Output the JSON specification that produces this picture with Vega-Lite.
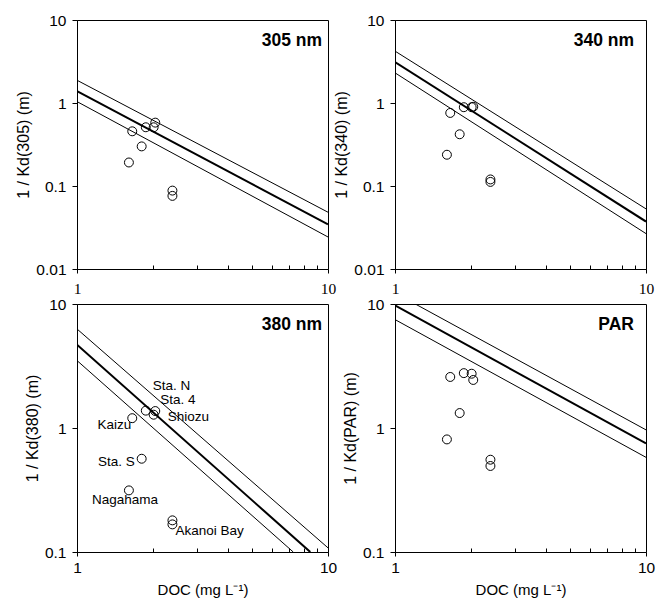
{
  "$schema": "https://vega.github.io/schema/vega-lite/v6.json",
  "autosize": {"type": "pad"},
  "padding": {"left": 15, "top": 12, "right": 0, "bottom": 0},
  "background": "white",
  "bounds": "flush",
  "columns": 2,
  "spacing": {"row": 35, "column": 67},
  "resolve": {"scale": {"x": "independent", "y": "independent"}},
  "config": {
    "font": "Liberation Sans",
    "view": {"stroke": "black", "strokeWidth": 1},
    "axis": {
      "grid": false,
      "domainColor": "black",
      "domainWidth": 1,
      "tickColor": "black",
      "tickWidth": 1,
      "labelColor": "black",
      "titleColor": "black",
      "labelFont": "Liberation Sans",
      "titleFont": "Liberation Sans",
      "labelFontSize": 15.5,
      "titleFontSize": 16,
      "titleFontWeight": "normal",
      "labelOverlap": false,
      "labelFlush": false
    },
    "title": {"font": "Liberation Sans", "fontSize": 17.5, "fontWeight": "bold", "color": "black"}
  },
  "datasets": {
    "points": [
      {"panel": "305 nm", "station": "Nagahama", "doc": 1.61, "inv_kd": 0.192},
      {"panel": "305 nm", "station": "Kaizu", "doc": 1.66, "inv_kd": 0.456},
      {"panel": "305 nm", "station": "Sta. S", "doc": 1.81, "inv_kd": 0.30},
      {"panel": "305 nm", "station": "Sta. N", "doc": 1.88, "inv_kd": 0.51},
      {"panel": "305 nm", "station": "Shiozu", "doc": 2.02, "inv_kd": 0.51},
      {"panel": "305 nm", "station": "Sta. 4", "doc": 2.05, "inv_kd": 0.58},
      {"panel": "305 nm", "station": "Akanoi Bay", "doc": 2.40, "inv_kd": 0.088},
      {"panel": "305 nm", "station": "Akanoi Bay", "doc": 2.40, "inv_kd": 0.076},
      {"panel": "340 nm", "station": "Nagahama", "doc": 1.61, "inv_kd": 0.238},
      {"panel": "340 nm", "station": "Kaizu", "doc": 1.66, "inv_kd": 0.759},
      {"panel": "340 nm", "station": "Sta. S", "doc": 1.81, "inv_kd": 0.42},
      {"panel": "340 nm", "station": "Sta. N", "doc": 1.88, "inv_kd": 0.89},
      {"panel": "340 nm", "station": "Shiozu", "doc": 2.02, "inv_kd": 0.89},
      {"panel": "340 nm", "station": "Sta. 4", "doc": 2.05, "inv_kd": 0.90},
      {"panel": "340 nm", "station": "Akanoi Bay", "doc": 2.40, "inv_kd": 0.120},
      {"panel": "340 nm", "station": "Akanoi Bay", "doc": 2.40, "inv_kd": 0.112},
      {"panel": "380 nm", "station": "Nagahama", "doc": 1.61, "inv_kd": 0.314},
      {"panel": "380 nm", "station": "Kaizu", "doc": 1.66, "inv_kd": 1.20},
      {"panel": "380 nm", "station": "Sta. S", "doc": 1.81, "inv_kd": 0.565},
      {"panel": "380 nm", "station": "Sta. N", "doc": 1.88, "inv_kd": 1.38},
      {"panel": "380 nm", "station": "Shiozu", "doc": 2.02, "inv_kd": 1.28},
      {"panel": "380 nm", "station": "Sta. 4", "doc": 2.05, "inv_kd": 1.37},
      {"panel": "380 nm", "station": "Akanoi Bay", "doc": 2.40, "inv_kd": 0.18},
      {"panel": "380 nm", "station": "Akanoi Bay", "doc": 2.40, "inv_kd": 0.167},
      {"panel": "PAR", "station": "Nagahama", "doc": 1.61, "inv_kd": 0.809},
      {"panel": "PAR", "station": "Kaizu", "doc": 1.66, "inv_kd": 2.58},
      {"panel": "PAR", "station": "Sta. S", "doc": 1.81, "inv_kd": 1.32},
      {"panel": "PAR", "station": "Sta. N", "doc": 1.88, "inv_kd": 2.77},
      {"panel": "PAR", "station": "Shiozu", "doc": 2.02, "inv_kd": 2.74},
      {"panel": "PAR", "station": "Sta. 4", "doc": 2.05, "inv_kd": 2.44},
      {"panel": "PAR", "station": "Akanoi Bay", "doc": 2.40, "inv_kd": 0.555},
      {"panel": "PAR", "station": "Akanoi Bay", "doc": 2.40, "inv_kd": 0.494}
    ],
    "fits": [
      {"panel": "305 nm", "line": "fit", "doc": 1, "inv_kd": 1.39},
      {"panel": "305 nm", "line": "fit", "doc": 10, "inv_kd": 0.0346},
      {"panel": "305 nm", "line": "upper", "doc": 1, "inv_kd": 1.88},
      {"panel": "305 nm", "line": "upper", "doc": 10, "inv_kd": 0.0483},
      {"panel": "305 nm", "line": "lower", "doc": 1, "inv_kd": 1.04},
      {"panel": "305 nm", "line": "lower", "doc": 10, "inv_kd": 0.0243},
      {"panel": "340 nm", "line": "fit", "doc": 1, "inv_kd": 3.11},
      {"panel": "340 nm", "line": "fit", "doc": 10, "inv_kd": 0.0373},
      {"panel": "340 nm", "line": "upper", "doc": 1, "inv_kd": 4.22},
      {"panel": "340 nm", "line": "upper", "doc": 10, "inv_kd": 0.053},
      {"panel": "340 nm", "line": "lower", "doc": 1, "inv_kd": 2.31},
      {"panel": "340 nm", "line": "lower", "doc": 10, "inv_kd": 0.0267},
      {"panel": "380 nm", "line": "fit", "doc": 1, "inv_kd": 4.70},
      {"panel": "380 nm", "line": "fit", "doc": 8.5, "inv_kd": 0.1},
      {"panel": "380 nm", "line": "upper", "doc": 1, "inv_kd": 6.29},
      {"panel": "380 nm", "line": "upper", "doc": 10, "inv_kd": 0.108},
      {"panel": "380 nm", "line": "lower", "doc": 1, "inv_kd": 3.50},
      {"panel": "380 nm", "line": "lower", "doc": 7.27, "inv_kd": 0.1},
      {"panel": "PAR", "line": "fit", "doc": 1, "inv_kd": 9.76},
      {"panel": "PAR", "line": "fit", "doc": 10, "inv_kd": 0.75},
      {"panel": "PAR", "line": "upper", "doc": 1.205, "inv_kd": 10},
      {"panel": "PAR", "line": "upper", "doc": 10, "inv_kd": 0.966},
      {"panel": "PAR", "line": "lower", "doc": 1, "inv_kd": 7.49},
      {"panel": "PAR", "line": "lower", "doc": 10, "inv_kd": 0.58}
    ]
  },
  "concat": [
    {
      "width": 251,
      "height": 249,
      "title": {"text": "305 nm", "orient": "top", "anchor": "end", "frame": "group", "offset": -50, "baseline": "alphabetic", "dx": -6},
      "encoding": {
        "x": {"field": "doc", "type": "quantitative", "scale": {"type": "log", "domain": [1, 10]},
          "axis": {"values": [1, 2, 3, 4, 5, 6, 7, 8, 9, 10], "format": "~g",
            "labelExpr": "datum.value == 1 || datum.value == 10 ? datum.label : ''",
            "tickSize": {"condition": {"test": "datum.value == 1 || datum.value == 10", "value": 4}, "value": -4},
            "labelFont": "Liberation Serif", "labelFontSize": 15.5, "labelPadding": 8, "title": null}},
        "y": {"field": "inv_kd", "type": "quantitative", "scale": {"type": "log", "domain": [0.01, 10]},
          "axis": {"values": [0.01, 0.1, 1, 10], "format": "~g", "tickSize": 5, "labelPadding": 6, "titlePadding": 4, "title": "1 / Kd(305)  (m)"}}
      },
      "layer": [
        {"data": {"name": "fits"}, "transform": [{"filter": "datum.panel == '305 nm' && datum.line != 'fit'"}],
          "mark": {"type": "line", "clip": true, "color": "black", "strokeWidth": 1}, "encoding": {"detail": {"field": "line"}}},
        {"data": {"name": "fits"}, "transform": [{"filter": "datum.panel == '305 nm' && datum.line == 'fit'"}],
          "mark": {"type": "line", "clip": true, "color": "black", "strokeWidth": 2}, "encoding": {}},
        {"data": {"name": "points"}, "transform": [{"filter": "datum.panel == '305 nm'"}],
          "mark": {"type": "point", "shape": "circle", "filled": false, "size": 80, "color": "black", "strokeWidth": 1, "opacity": 1}, "encoding": {}}
      ]
    },
    {
      "width": 251,
      "height": 249,
      "title": {"text": "340 nm", "orient": "top", "anchor": "end", "frame": "group", "offset": -50, "baseline": "alphabetic", "dx": -12},
      "encoding": {
        "x": {"field": "doc", "type": "quantitative", "scale": {"type": "log", "domain": [1, 10]},
          "axis": {"values": [1, 2, 3, 4, 5, 6, 7, 8, 9, 10], "format": "~g",
            "labelExpr": "datum.value == 1 || datum.value == 10 ? datum.label : ''",
            "tickSize": {"condition": {"test": "datum.value == 1 || datum.value == 10", "value": 4}, "value": -4},
            "labelFont": "Liberation Serif", "labelFontSize": 15.5, "labelPadding": 8, "title": null}},
        "y": {"field": "inv_kd", "type": "quantitative", "scale": {"type": "log", "domain": [0.01, 10]},
          "axis": {"values": [0.01, 0.1, 1, 10], "format": "~g", "tickSize": 5, "labelPadding": 6, "titlePadding": 4, "title": "1 / Kd(340)  (m)"}}
      },
      "layer": [
        {"data": {"name": "fits"}, "transform": [{"filter": "datum.panel == '340 nm' && datum.line != 'fit'"}],
          "mark": {"type": "line", "clip": true, "color": "black", "strokeWidth": 1}, "encoding": {"detail": {"field": "line"}}},
        {"data": {"name": "fits"}, "transform": [{"filter": "datum.panel == '340 nm' && datum.line == 'fit'"}],
          "mark": {"type": "line", "clip": true, "color": "black", "strokeWidth": 2}, "encoding": {}},
        {"data": {"name": "points"}, "transform": [{"filter": "datum.panel == '340 nm'"}],
          "mark": {"type": "point", "shape": "circle", "filled": false, "size": 80, "color": "black", "strokeWidth": 1, "opacity": 1}, "encoding": {}}
      ]
    },
    {
      "width": 251,
      "height": 248,
      "title": {"text": "380 nm", "orient": "top", "anchor": "end", "frame": "group", "offset": -50, "baseline": "alphabetic", "dx": -6},
      "encoding": {
        "x": {"field": "doc", "type": "quantitative", "scale": {"type": "log", "domain": [1, 10]},
          "axis": {"values": [1, 2, 3, 4, 5, 6, 7, 8, 9, 10], "format": "~g",
            "labelExpr": "datum.value == 1 || datum.value == 10 ? datum.label : ''",
            "tickSize": {"condition": {"test": "datum.value == 1 || datum.value == 10", "value": 4}, "value": -4},
            "labelFontSize": 15.5, "labelPadding": 4, "titlePadding": 7, "titleFontSize": 15, "title": "DOC (mg L⁻¹)"}},
        "y": {"field": "inv_kd", "type": "quantitative", "scale": {"type": "log", "domain": [0.1, 10]},
          "axis": {"values": [0.1, 1, 10], "format": "~g", "tickSize": 5, "labelPadding": 6, "titlePadding": 4, "title": "1 / Kd(380)  (m)"}}
      },
      "layer": [
        {"data": {"name": "fits"}, "transform": [{"filter": "datum.panel == '380 nm' && datum.line != 'fit'"}],
          "mark": {"type": "line", "clip": true, "color": "black", "strokeWidth": 1}, "encoding": {"detail": {"field": "line"}}},
        {"data": {"name": "fits"}, "transform": [{"filter": "datum.panel == '380 nm' && datum.line == 'fit'"}],
          "mark": {"type": "line", "clip": true, "color": "black", "strokeWidth": 2}, "encoding": {}},
        {"data": {"name": "points"}, "transform": [{"filter": "datum.panel == '380 nm'"}],
          "mark": {"type": "point", "shape": "circle", "filled": false, "size": 80, "color": "black", "strokeWidth": 1, "opacity": 1}, "encoding": {}},
        {"data": {"name": "points"}, "transform": [{"filter": "datum.panel == '380 nm' && datum.station == 'Sta. N'"}],
          "mark": {"type": "text", "align": "left", "baseline": "alphabetic", "dx": 7, "dy": -21, "fontSize": 13.5, "color": "black"}, "encoding": {"text": {"field": "station"}}},
        {"data": {"name": "points"}, "transform": [{"filter": "datum.panel == '380 nm' && datum.station == 'Sta. 4'"}],
          "mark": {"type": "text", "align": "left", "baseline": "alphabetic", "dx": 5, "dy": -7, "fontSize": 13.5, "color": "black"}, "encoding": {"text": {"field": "station"}}},
        {"data": {"name": "points"}, "transform": [{"filter": "datum.panel == '380 nm' && datum.station == 'Shiozu'"}],
          "mark": {"type": "text", "align": "left", "baseline": "alphabetic", "dx": 14, "dy": 6, "fontSize": 13.5, "color": "black"}, "encoding": {"text": {"field": "station"}}},
        {"data": {"name": "points"}, "transform": [{"filter": "datum.panel == '380 nm' && datum.station == 'Kaizu'"}],
          "mark": {"type": "text", "align": "right", "baseline": "alphabetic", "dx": -1, "dy": 11, "fontSize": 13.5, "color": "black"}, "encoding": {"text": {"field": "station"}}},
        {"data": {"name": "points"}, "transform": [{"filter": "datum.panel == '380 nm' && datum.station == 'Sta. S'"}],
          "mark": {"type": "text", "align": "right", "baseline": "alphabetic", "dx": -7, "dy": 7, "fontSize": 13.5, "color": "black"}, "encoding": {"text": {"field": "station"}}},
        {"data": {"name": "points"}, "transform": [{"filter": "datum.panel == '380 nm' && datum.station == 'Nagahama'"}],
          "mark": {"type": "text", "align": "center", "baseline": "alphabetic", "dx": -4, "dy": 14, "fontSize": 13.5, "color": "black"}, "encoding": {"text": {"field": "station"}}},
        {"data": {"name": "points"}, "transform": [{"filter": "datum.panel == '380 nm' && datum.station == 'Akanoi Bay' && datum.inv_kd < 0.17"}],
          "mark": {"type": "text", "align": "left", "baseline": "alphabetic", "dx": 3, "dy": 11, "fontSize": 13.5, "color": "black"}, "encoding": {"text": {"field": "station"}}}
      ]
    },
    {
      "width": 251,
      "height": 248,
      "title": {"text": "PAR", "orient": "top", "anchor": "end", "frame": "group", "offset": -50, "baseline": "alphabetic", "dx": -12},
      "encoding": {
        "x": {"field": "doc", "type": "quantitative", "scale": {"type": "log", "domain": [1, 10]},
          "axis": {"values": [1, 2, 3, 4, 5, 6, 7, 8, 9, 10], "format": "~g",
            "labelExpr": "datum.value == 1 || datum.value == 10 ? datum.label : ''",
            "tickSize": {"condition": {"test": "datum.value == 1 || datum.value == 10", "value": 4}, "value": -4},
            "labelFontSize": 15.5, "labelPadding": 4, "titlePadding": 7, "titleFontSize": 15, "title": "DOC (mg L⁻¹)"}},
        "y": {"field": "inv_kd", "type": "quantitative", "scale": {"type": "log", "domain": [0.1, 10]},
          "axis": {"values": [0.1, 1, 10], "format": "~g", "tickSize": 5, "labelPadding": 6, "titlePadding": 4, "title": "1 / Kd(PAR)  (m)"}}
      },
      "layer": [
        {"data": {"name": "fits"}, "transform": [{"filter": "datum.panel == 'PAR' && datum.line != 'fit'"}],
          "mark": {"type": "line", "clip": true, "color": "black", "strokeWidth": 1}, "encoding": {"detail": {"field": "line"}}},
        {"data": {"name": "fits"}, "transform": [{"filter": "datum.panel == 'PAR' && datum.line == 'fit'"}],
          "mark": {"type": "line", "clip": true, "color": "black", "strokeWidth": 2}, "encoding": {}},
        {"data": {"name": "points"}, "transform": [{"filter": "datum.panel == 'PAR'"}],
          "mark": {"type": "point", "shape": "circle", "filled": false, "size": 80, "color": "black", "strokeWidth": 1, "opacity": 1}, "encoding": {}}
      ]
    }
  ]
}
